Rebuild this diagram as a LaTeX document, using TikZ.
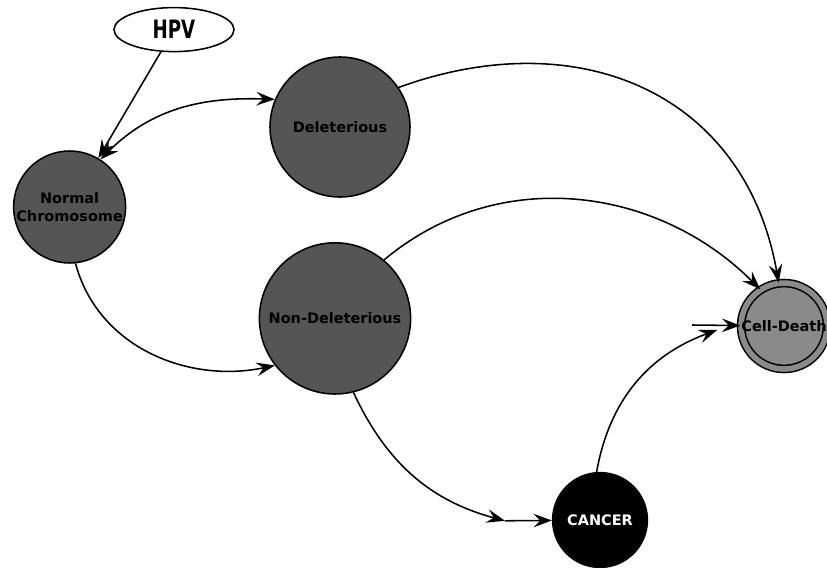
\documentclass[tikz,border=0pt]{standalone}
\usepackage{fontspec}
\setmainfont{DejaVu Sans}
\newfontfamily\hpvfont[FakeStretch=0.8]{DejaVu Sans Condensed}
\usetikzlibrary{shapes.geometric, arrows.meta, positioning, calc}
\definecolor{hpGray}{HTML}{555555}
\definecolor{hpLight}{HTML}{8A8A8A}
\tikzset{
  stateNode/.style={circle, draw=black, line width=1.1pt, fill=hpGray, inner sep=0pt,
                    align=center, font=\bfseries\fontsize{10.3}{12.8}\selectfont},
  flow/.style={line width=1.1pt, ->}
}

\begin{document}
\begin{tikzpicture}[>={Stealth[length=4.6mm,width=3.4mm,inset=1.7mm]}]
  \useasboundingbox (0,0) rectangle (20.675,-14.175);
  % zustaende
  \node[ellipse, draw, line width=1.1pt, fill=white, minimum width=3cm, minimum height=1.1cm,
        font=\hpvfont\bfseries\fontsize{18}{20}\selectfont] (hpv) at (4.35,-0.74) {HPV};
  \node[stateNode, minimum size=2.8cm] (normal) at (1.74,-5.175) {Normal\\Chromosome};
  \node[stateNode, minimum size=3.5cm] (del) at (8.5,-3.175) {Deleterious};
  \node[stateNode, minimum size=3.78cm] (nondel) at (8.375,-7.96) {Non-Deleterious};
  \node[stateNode, minimum size=2.09cm, fill=hpLight, double=hpLight, double distance=1.4mm] (death) at (19.6,-8.15) {Cell-Death};
  \node[stateNode, minimum size=2.37cm, fill=black, text=white] (cancer) at (15,-13) {CANCER};
  % hilfspunkte
  \coordinate (cancerIn) at (12.625,-13.02);
  \coordinate (deathIn) at (17.93,-8.25);
  \coordinate (deathStub) at (17.3,-8.125);
  % uebergaenge
  \draw[flow] (hpv) -- (normal);
  \draw[flow, <->] (normal.57) to[out=45,in=178] (del.157);
  \draw[flow] (normal.-84) to[out=-75,in=192] (nondel.218);
  \draw[flow] (del.34) to[out=20,in=100,looseness=1.15] (death.97);
  \draw[flow] (nondel.50) to[out=40,in=135] (death.123);
  \draw[flow] (nondel.-76) to[out=-65,in=165] (cancerIn);
  \draw[flow] (cancerIn) -- (cancer);
  \draw[flow] (cancer.94) to[out=80,in=200] (deathIn);
  \draw[flow] (deathStub) -- (death);
\end{tikzpicture}
\end{document}
